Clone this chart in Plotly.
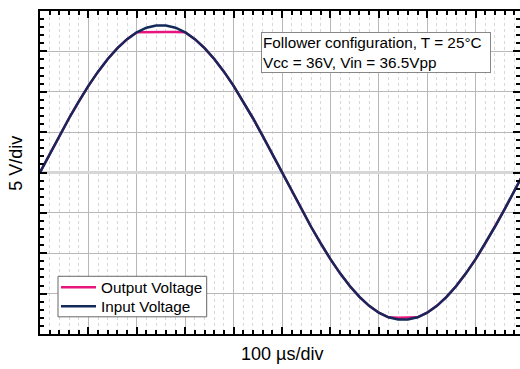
import plotly.graph_objects as go

# Time base (µs) and measured voltages (V)
time_us = [0, 20, 40, 60, 80, 100, 120, 140, 160, 180,
           200, 220, 240, 260, 280, 300, 320, 340, 360, 380,
           400, 420, 440, 460, 480, 500, 520, 540, 560, 580,
           600, 620, 640, 660, 680, 700, 720, 740, 760, 780,
           800, 820, 840, 860, 880, 900, 920, 940, 960, 980, 1000]

input_v = [0.00, 2.29, 4.54, 6.72, 8.79, 10.73, 12.49, 14.06, 15.41, 16.51,
           17.36, 17.93, 18.21, 18.21, 17.93, 17.36, 16.51, 15.41, 14.06, 12.49,
           10.73, 8.79, 6.72, 4.54, 2.29, 0.00, -2.29, -4.54, -6.72, -8.79,
           -10.73, -12.49, -14.06, -15.41, -16.51, -17.36, -17.93, -18.21, -18.21, -17.93,
           -17.36, -16.51, -15.41, -14.06, -12.49, -10.73, -8.79, -6.72, -4.54, -2.29, 0.00]

output_v = [0.00, 2.29, 4.54, 6.72, 8.79, 10.73, 12.49, 14.06, 15.41, 16.51,
            17.36, 17.40, 17.40, 17.40, 17.40, 17.36, 16.51, 15.41, 14.06, 12.49,
            10.73, 8.79, 6.72, 4.54, 2.29, 0.00, -2.29, -4.54, -6.72, -8.79,
            -10.73, -12.49, -14.06, -15.41, -16.51, -17.36, -17.93, -18.00, -18.00, -17.93,
            -17.36, -16.51, -15.41, -14.06, -12.49, -10.73, -8.79, -6.72, -4.54, -2.29, 0.00]

series_names = ["Output Voltage", "Input Voltage"]
series_colors = ["#E8157F", "#13295A"]

FONT = "Liberation Sans, Arial, sans-serif"

# plot-area geometry in pixels, used to place the boxed legend and labels
L, R, T, B = 40, 520, 11, 334.5


def px(x):
    return (x - L) / (R - L)


def py(y):
    return (B - y) / (B - T)


fig = go.Figure()
fig.add_trace(go.Scatter(x=time_us, y=output_v, mode="lines", name=series_names[0],
                         line=dict(color=series_colors[0], width=2.5)))
fig.add_trace(go.Scatter(x=time_us, y=input_v, mode="lines", name=series_names[1],
                         line=dict(color=series_colors[1], width=2.5)))
# empty trace carrying the right-hand tick axis
fig.add_trace(go.Scatter(x=[], y=[], yaxis="y2", showlegend=False, hoverinfo="skip"))

tick_common = dict(ticks="inside", tickcolor="black", tickwidth=1.5, showticklabels=False)

# compact legend: frame, line samples and labels
legend_rows = [287.7, 306.7]
shapes = [dict(type="rect", xref="paper", yref="paper",
               x0=px(58), x1=px(206.7), y0=py(317.3), y1=py(276.7),
               line=dict(color="#666666", width=1), fillcolor="white", layer="above")]
annotations = []
for name, color, row in zip(series_names, series_colors, legend_rows):
    shapes.append(dict(type="line", xref="paper", yref="paper",
                       x0=px(61), x1=px(96), y0=py(row), y1=py(row),
                       line=dict(color=color, width=2.5), layer="above"))
    annotations.append(dict(text=name, xref="paper", yref="paper",
                            x=px(99), y=py(row), xanchor="left", yanchor="middle",
                            showarrow=False, font=dict(size=15.3, family=FONT)))

annotations += [
    dict(text="Follower configuration, T = 25°C<br>Vcc = 36V, Vin = 36.5Vpp",
         xref="paper", yref="paper", x=px(261), y=py(32.3),
         xanchor="left", yanchor="top", align="left", showarrow=False,
         width=226, font=dict(size=15.3, family=FONT), bgcolor="white",
         bordercolor="#888888", borderwidth=1, borderpad=1),
    dict(text="100 µs/div", xref="paper", yref="paper",
         x=px(282), y=py(355), xanchor="center", yanchor="middle", showarrow=False,
         font=dict(size=18, family=FONT)),
    dict(text="5 V/div", xref="paper", yref="paper",
         x=px(16), y=py(164), textangle=-90,
         xanchor="center", yanchor="middle", showarrow=False,
         font=dict(size=18, family=FONT)),
]

fig.update_layout(
    width=520, height=369,
    margin=dict(l=L, r=520 - R, t=T, b=369 - B),
    paper_bgcolor="white", plot_bgcolor="white",
    font=dict(family=FONT, color="black"),
    showlegend=False,
    xaxis=dict(range=[0, 991.7], dtick=100, tick0=0, ticklen=7, mirror="ticks",
               showline=True, linecolor="black", linewidth=1.5,
               showgrid=True, gridcolor="#b8b8b8", gridwidth=1, zeroline=False,
               minor=dict(dtick=20, ticks="inside", ticklen=4, tickcolor="black",
                          tickwidth=1.5, showgrid=True, gridcolor="#d8d8d8",
                          griddash="dot", gridwidth=1),
               **tick_common),
    yaxis=dict(range=[-20, 20], dtick=5, tick0=0, ticklen=7, mirror=False,
               showline=True, linecolor="black", linewidth=1.5,
               showgrid=True, gridcolor="#b8b8b8", gridwidth=1,
               zeroline=True, zerolinecolor="#d6d6d6", zerolinewidth=2.5,
               minor=dict(dtick=1, ticks="inside", ticklen=4, tickcolor="black",
                          tickwidth=1.5, showgrid=False),
               **tick_common),
    yaxis2=dict(range=[-20, 20], dtick=5, tick0=0, ticklen=7, overlaying="y", side="right",
                showline=False, showgrid=False, zeroline=False,
                minor=dict(dtick=1, ticks="inside", ticklen=4, tickcolor="black",
                           tickwidth=1.5),
                **tick_common),
    shapes=shapes,
    annotations=annotations,
)

fig.write_html("out.html")
